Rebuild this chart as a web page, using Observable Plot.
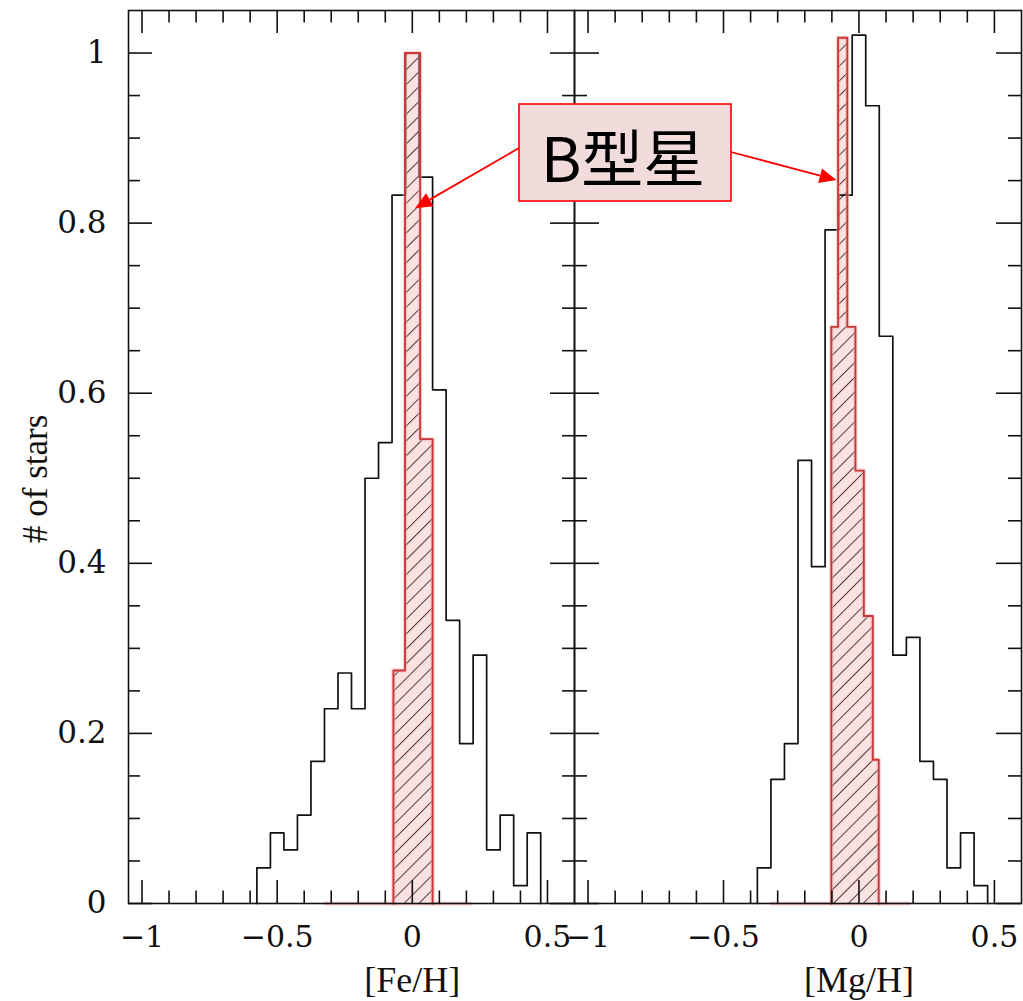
<!DOCTYPE html>
<html><head><meta charset="utf-8">
<script src="https://cdn.jsdelivr.net/npm/d3@7"></script>
<script src="https://cdn.jsdelivr.net/npm/@observablehq/plot@0.6"></script>
<style>
body{margin:0;background:#fff;}
#wrap{position:relative;width:1023px;height:1001px;overflow:hidden;background:#fff;}
#wrap svg{position:absolute;top:0;}
</style></head><body><div id="wrap"></div>
<script>
// ---------- data ----------
const binWidth = 0.05;
const feBinCenters = [-0.55,-0.50,-0.45,-0.40,-0.35,-0.30,-0.25,-0.20,-0.15,-0.10,-0.05,0.00,0.05,0.10,0.15,0.20,0.25,0.30,0.35,0.40,0.45];
const feAllStars   = [0.042,0.083,0.063,0.104,0.167,0.229,0.271,0.229,0.500,0.542,0.833,1.000,0.854,0.604,0.333,0.188,0.292,0.063,0.104,0.021,0.083];
const mgBinCenters = [-0.35,-0.30,-0.25,-0.20,-0.15,-0.10,-0.05,0.00,0.05,0.10,0.15,0.20,0.25,0.30,0.35,0.40,0.45];
const mgAllStars   = [0.042,0.146,0.188,0.521,0.396,0.792,0.833,1.021,0.938,0.667,0.292,0.313,0.167,0.146,0.042,0.083,0.021];
const feBStarEdges  = [-0.070,-0.027,0.029,0.075];
const feBStarValues = [0.274,1.000,0.546];
const mgBStarEdges  = [-0.102,-0.077,-0.043,-0.013,0.018,0.051,0.073];
const mgBStarValues = [0.678,1.018,0.678,0.509,0.338,0.169];
const feBStarSpan = [-0.325,0.225];
const mgBStarSpan = [-0.325,0.19];
const xMajorTicks = [-1,-0.5,0,0.5];
const xTickLabels = ["−1","−0.5","0","0.5"];
const xMinorTicks = [-0.9,-0.8,-0.7,-0.6,-0.4,-0.3,-0.2,-0.1,0.1,0.2,0.3,0.4];
const yMajorTicks = [0,0.2,0.4,0.6,0.8,1];
const yTickLabels = ["0","0.2","0.4","0.6","0.8","1"];
const yMinorTicks = [0.05,0.1,0.15,0.25,0.3,0.35,0.45,0.5,0.55,0.65,0.7,0.75,0.85,0.9,0.95];
const xTitles = ["[Fe/H]","[Mg/H]"];
const yTitle = "# of stars";
const annotationText = "B型星";
const arrowTipX = [0.012,-0.081];
const arrowTipY = [0.817,0.850];

// ---------- helpers ----------
function histOutline(centers, values, w) {
  const pts = [{x: centers[0] - w/2, y: 0}];
  centers.forEach((c, i) => pts.push({x: c - w/2, y: values[i]}));
  pts.push({x: centers[centers.length-1] + w/2, y: 0});
  return pts;
}
function edgeOutline(edges, values) {
  const pts = [{x: edges[0], y: 0}];
  values.forEach((v, i) => pts.push({x: edges[i], y: v}));
  pts.push({x: edges[edges.length-1], y: 0});
  return pts;
}

const H = 1001, MT = 10, MB = 98;
const frameH = H - MT - MB;
const frameW = 446;
const serif = "DejaVu Serif";
const titleFont = "Liberation Serif";

function panel(o) {
  const all = histOutline(o.centers, o.values, binWidth);
  const bst = edgeOutline(o.bEdges, o.bValues);
  const marks = [
    Plot.ruleY([0], {x1: o.span[0], x2: o.span[1], stroke: "#f08a8a", strokeWidth: 4, strokeOpacity: 0.45}),
    Plot.areaY(bst, {x: "x", y: "y", curve: "step-after", fill: `url(#${o.pid})`}),
    Plot.line(all, {x: "x", y: "y", curve: "step-after", stroke: "#111", strokeWidth: 1.7}),
    Plot.line(bst, {x: "x", y: "y", curve: "step-after", stroke: "#f2b0b0", strokeWidth: 4.5, strokeOpacity: 0.45}),
    Plot.line(bst, {x: "x", y: "y", curve: "step-after", stroke: "#c83838", strokeWidth: 1.9}),
    Plot.frame({stroke: "#111", strokeWidth: 1.6}),
    Plot.tickX(xMajorTicks, {x: d => d, insetTop: frameH - 23, stroke: "#111", strokeWidth: 1.6}),
    Plot.tickX(xMajorTicks, {x: d => d, insetBottom: frameH - 23, stroke: "#111", strokeWidth: 1.6}),
    Plot.tickX(xMinorTicks, {x: d => d, insetTop: frameH - 12.5, stroke: "#111", strokeWidth: 1.6}),
    Plot.tickX(xMinorTicks, {x: d => d, insetBottom: frameH - 12.5, stroke: "#111", strokeWidth: 1.6}),
    Plot.tickY(yMajorTicks, {y: d => d, insetRight: frameW - 24, stroke: "#111", strokeWidth: 1.6}),
    Plot.tickY(yMajorTicks, {y: d => d, insetLeft: frameW - 24, stroke: "#111", strokeWidth: 1.6}),
    Plot.tickY(yMinorTicks, {y: d => d, insetRight: frameW - 12, stroke: "#111", strokeWidth: 1.6}),
    Plot.tickY(yMinorTicks, {y: d => d, insetLeft: frameW - 12, stroke: "#111", strokeWidth: 1.6}),
    Plot.text(xMajorTicks, {x: d => d, text: (d, i) => xTickLabels[i], frameAnchor: "bottom", dy: 43,
      fontSize: 30, fontFamily: serif, fill: "#111"}),
    Plot.text([o.title], {x: () => 0, text: d => d, frameAnchor: "bottom", dy: 88,
      fontSize: 36, fontFamily: titleFont, fill: "#111"})
  ];
  if (o.showY) {
    marks.push(Plot.text(yMajorTicks, {y: d => d, text: (d, i) => yTickLabels[i], frameAnchor: "left", dx: -22,
      textAnchor: "end", fontSize: 31, fontFamily: serif, fill: "#111"}));
    marks.push(Plot.text([yTitle], {text: d => d, frameAnchor: "left", dx: -93, dy: 86, rotate: -90,
      fontSize: 35, fontFamily: titleFont, fill: "#111"}));
  }
  const p = Plot.plot({
    width: o.width, height: H, marginTop: MT, marginBottom: MB,
    marginLeft: o.ml, marginRight: o.mr,
    x: {domain: [-1.05, 0.6], axis: null},
    y: {domain: [0, 1.05], axis: null},
    style: {background: "transparent", overflow: "visible"},
    marks
  });
  d3.select(p).insert("defs", ":first-child").html(
    `<pattern id="${o.pid}" patternUnits="userSpaceOnUse" width="10.5" height="10.5" patternTransform="rotate(45)">
       <rect width="10.5" height="10.5" fill="#f8e2e2"/>
       <line x1="0.5" y1="0" x2="0.5" y2="10.5" stroke="#5a3434" stroke-width="1"/>
     </pattern>`);
  p.style.left = o.left + "px";
  return p;
}

const wrap = document.getElementById("wrap");
const leftLeft = 0, rightLeft = 474;
const plotFe = panel({centers: feBinCenters, values: feAllStars, bEdges: feBStarEdges, bValues: feBStarValues,
  span: feBStarSpan, title: xTitles[0], showY: true, width: 600, ml: 128, mr: 26, left: leftLeft, pid: "hatchFe"});
const plotMg = panel({centers: mgBinCenters, values: mgAllStars, bEdges: mgBStarEdges, bValues: mgBStarValues,
  span: mgBStarSpan, title: xTitles[1], showY: false, width: 549, ml: 100, mr: 2, left: rightLeft, pid: "hatchMg"});
wrap.appendChild(plotFe);
wrap.appendChild(plotMg);

// ---------- annotation overlay ----------
const box = {x: 519, y: 104, w: 212, h: 97};
const tips = [
  [leftLeft + plotFe.scale("x").apply(arrowTipX[0]), plotFe.scale("y").apply(arrowTipY[0])],
  [rightLeft + plotMg.scale("x").apply(arrowTipX[1]), plotMg.scale("y").apply(arrowTipY[1])]
];
const starts = [[box.x, 148], [box.x + box.w, 152]];
const ov = d3.create("svg").attr("width", 1023).attr("height", 1001).style("left", "0px");
tips.forEach((t, i) => {
  const s = starts[i];
  const dx = t[0] - s[0], dy = t[1] - s[1], L = Math.hypot(dx, dy);
  const ux = dx / L, uy = dy / L, hl = 17, hw = 7.5;
  const bx = t[0] - ux * hl, by = t[1] - uy * hl;
  ov.append("line").attr("x1", s[0]).attr("y1", s[1]).attr("x2", bx).attr("y2", by)
    .attr("stroke", "#ff0000").attr("stroke-width", 1.8);
  ov.append("polygon").attr("points",
    `${t[0]},${t[1]} ${bx - uy * hw},${by + ux * hw} ${bx + uy * hw},${by - ux * hw}`).attr("fill", "#ff0000");
});
ov.append("rect").attr("x", box.x).attr("y", box.y).attr("width", box.w).attr("height", box.h)
  .attr("fill", "#f2dcdb").attr("stroke", "#ff0000").attr("stroke-width", 1.6);
ov.append("text").attr("x", box.x + box.w / 2 - 2).attr("y", box.y + box.h / 2 + 2)
  .attr("text-anchor", "middle").attr("dominant-baseline", "central")
  .attr("font-family", "'Noto Sans CJK SC', 'Noto Sans CJK JP', sans-serif").attr("font-size", 62)
  .attr("fill", "#000").text(annotationText);
wrap.appendChild(ov.node());
</script></body></html>
